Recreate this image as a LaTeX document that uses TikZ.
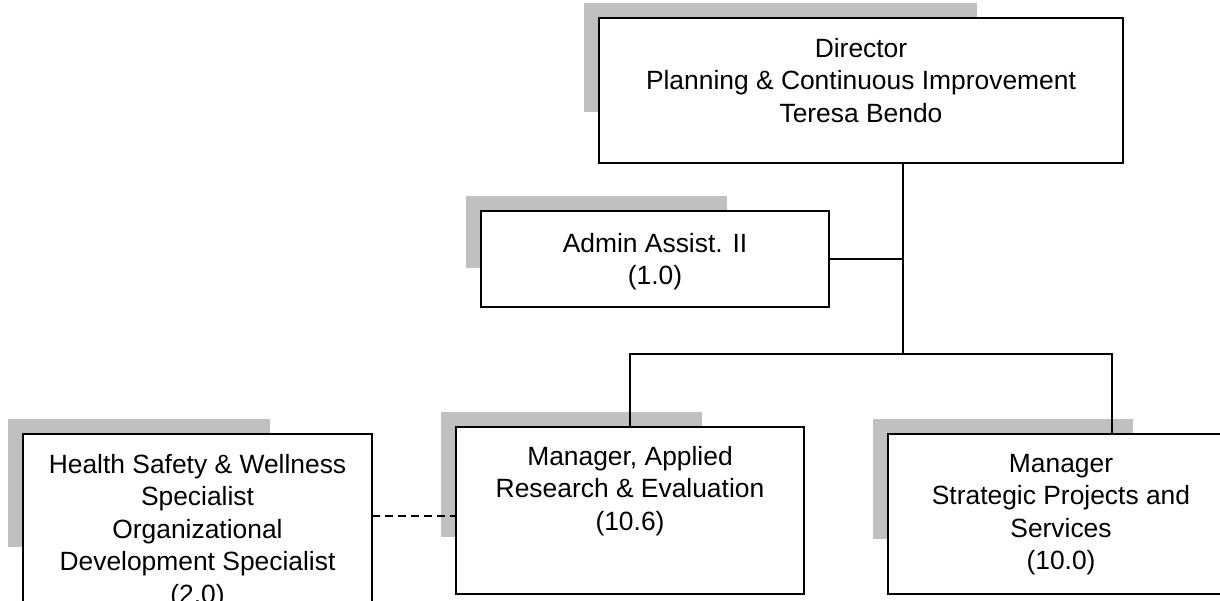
\documentclass[tikz,border=0pt]{standalone}
\usepackage{fontspec}
\setmainfont{Liberation Sans}
\usetikzlibrary{positioning,backgrounds,calc}
\definecolor{backgray}{HTML}{C0C0C0}

\begin{document}
\begin{tikzpicture}[x=1pt,y=-1pt,
    box/.style={draw,line width=2.2pt,fill=white,inner sep=0pt,outer sep=0pt},
    txt/.style={align=center,inner sep=0pt,font=\fontsize{26.4}{32.5}\selectfont},
    backdrop/.style={fill=backgray},
    wire/.style={line width=2pt}]
    \useasboundingbox (0,0) rectangle (1220,601);
    \clip (0,0) rectangle (1220,601);

    \node[box,minimum width=524pt,minimum height=145pt] (dir) at (861,90.5) {};
    \node[box,minimum width=348pt,minimum height=96pt] (admin) at (655,259) {};
    \node[box,minimum width=349pt,minimum height=170pt] (hsw) at (197.5,519) {};
    \node[box,minimum width=348pt,minimum height=167pt] (mgr) at (630,510.5) {};
    \node[box,minimum width=346pt,minimum height=160pt] (spm) at (1061,514) {};

    \node[txt,below=20pt of dir.north] (dirtxt) {Director\\Planning \& Continuous Improvement\\Teresa Bendo};
    \node[txt,below=22pt of admin.north] (admintxt) {Admin Assist. II\\(1.0)};
    \node[txt,below=20pt of hsw.north] (hswtxt) {Health Safety \& Wellness\\Specialist\\Organizational\\Development Specialist\\(2.0)};
    \node[txt,below=19pt of mgr.north] (mgrtxt) {Manager, Applied\\Research \& Evaluation\\(10.6)};
    \node[txt,below=20pt of spm.north] (spmtxt) {Manager\\Strategic Projects and\\Services\\(10.0)};

    \begin{scope}[on background layer]
        \foreach \b in {dir,admin,hsw,mgr,spm}
            \fill[backdrop] ($(\b.north west)+(-15,-15)$) rectangle ($(\b.north west)!0.75!(\b.south east)+(-15,-15)$);
    \end{scope}

    \coordinate (hub) at (903,354);
    \coordinate (drop) at (1112,354);
    \draw[wire] (dir.south -| hub) -- (hub);
    \draw[wire] (admin.east) -- (admin.east -| hub);
    \draw[wire] (mgr.north) |- (drop) -- (drop |- spm.north);
    \draw[wire,dash pattern=on 8pt off 5pt] ([yshift=3pt]hsw.east) -- ([yshift=3pt]hsw.east -| mgr.west);
\end{tikzpicture}
\end{document}
